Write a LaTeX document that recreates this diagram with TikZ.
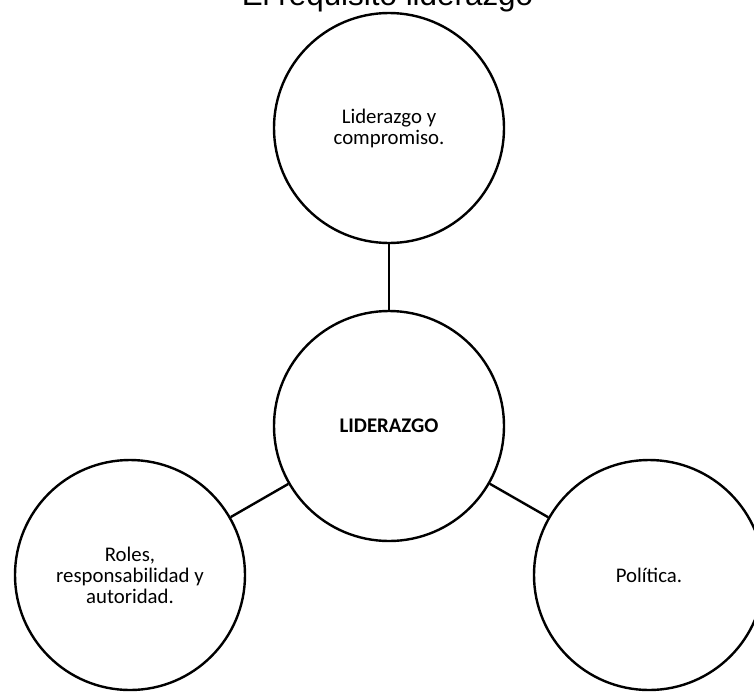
\documentclass[tikz,border=0pt]{standalone}
\usepackage{fontspec}
\setmainfont{Carlito}
\newfontfamily\titlefont{Liberation Sans}
\begin{document}
\begin{tikzpicture}[x=1pt,y=-1pt,
  bubble/.style={circle, draw=black, line width=2.4pt, minimum size=230pt,
    inner sep=0pt, align=center, font=\fontsize{20.8}{21}\selectfont},
  link/.style={draw=black, line width=2.4pt}]
  \useasboundingbox (0,0) rectangle (754,691);
  % heading, partly above the page edge
  \node[anchor=base, inner sep=0pt, font=\titlefont\fontsize{31.4}{36}\selectfont]
    (title) at (387.5,5.5) {El requisito liderazgo};
  % the four circles
  \node[bubble] (top) at (389,128) {Liderazgo y\\compromiso.};
  \node[bubble] (mid) at (389,426) {\textbf{LIDERAZGO}};
  \node[bubble] (left) at (130,575) {Roles,\\responsabilidad y\\autoridad.};
  \node[bubble] (right) at (649,575) {Política.};
  % connectors
  \draw[link] (mid) -- (top);
  \draw[link] (mid) -- (left);
  \draw[link] (mid) -- (right);
\end{tikzpicture}
\end{document}
